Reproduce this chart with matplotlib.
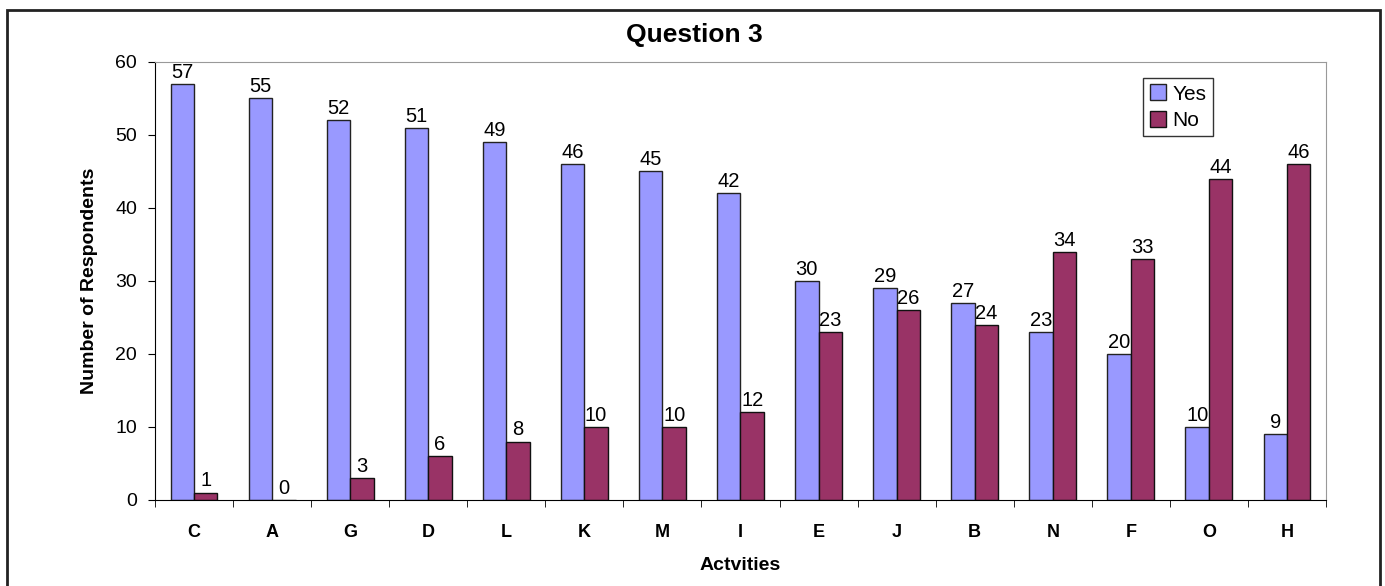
import matplotlib.pyplot as plt
import numpy as np

activities = ['C', 'A', 'G', 'D', 'L', 'K', 'M', 'I', 'E', 'J', 'B', 'N', 'F', 'O', 'H']
yes = [57, 55, 52, 51, 49, 46, 45, 42, 30, 29, 27, 23, 20, 10, 9]
no = [1, 0, 3, 6, 8, 10, 10, 12, 23, 26, 24, 34, 33, 44, 46]

plt.rcParams['font.family'] = ['Liberation Sans', 'DejaVu Sans']

fig = plt.figure(figsize=(13.85, 5.86), dpi=100)
ax = fig.add_axes([0.1119, 0.1468, 0.8455, 0.7474])

# outer chart frame
fig.add_artist(plt.Rectangle((7 / 1385, -0.05), 1373 / 1385, 1 - 10 / 586 + 0.05,
                             transform=fig.transFigure, fill=False,
                             edgecolor='#222222', linewidth=2))

x = np.arange(len(activities))
w = 0.3
b1 = ax.bar(x - w / 2, yes, w, color='#9999FF', edgecolor='#222222', linewidth=1, label='Yes')
b2 = ax.bar(x + w / 2, no, w, color='#993366', edgecolor='#111111', linewidth=1, label='No')

for rect, v in zip(b1, yes):
    ax.text(rect.get_x() + rect.get_width() / 2, v + 0.3, str(v), ha='center', va='bottom', fontsize=14.5)
for rect, v in zip(b2, no):
    ax.text(rect.get_x() + rect.get_width() / 2, v + 0.3, str(v), ha='center', va='bottom', fontsize=14.5)

ax.set_xlim(-0.5, len(activities) - 0.5)
ax.set_ylim(0, 60)
ax.set_yticks(range(0, 61, 10))
ax.set_xticks(x)
ax.set_xticklabels(activities, fontweight='bold', fontsize=13)
ax.set_xticks(np.arange(-0.5, len(activities), 1), minor=True)
ax.tick_params(axis='x', which='major', length=0, pad=17)
ax.tick_params(axis='x', which='minor', length=5, direction='out')
ax.tick_params(axis='y', length=5, direction='out', labelsize=14, pad=8)

for s in ['top', 'right']:
    ax.spines[s].set_color('#999999')
ax.spines['left'].set_color('black')
ax.spines['bottom'].set_color('black')

ax.set_xlabel('Actvities', fontweight='bold', fontsize=14, labelpad=12)
ax.set_ylabel('Number of Respondents', fontweight='bold', fontsize=14, labelpad=12)
fig.text(0.5015, 1 - 35 / 586, 'Question 3', fontweight='bold', fontsize=19,
         ha='center', va='center')

ax.legend(loc='upper left', bbox_to_anchor=(0.844, 0.963), fontsize=15, frameon=True,
          fancybox=False, edgecolor='black', handlelength=0.8, handleheight=0.8,
          handletextpad=0.3, borderpad=0.3, labelspacing=0.35, borderaxespad=0)

plt.savefig('out.png')
